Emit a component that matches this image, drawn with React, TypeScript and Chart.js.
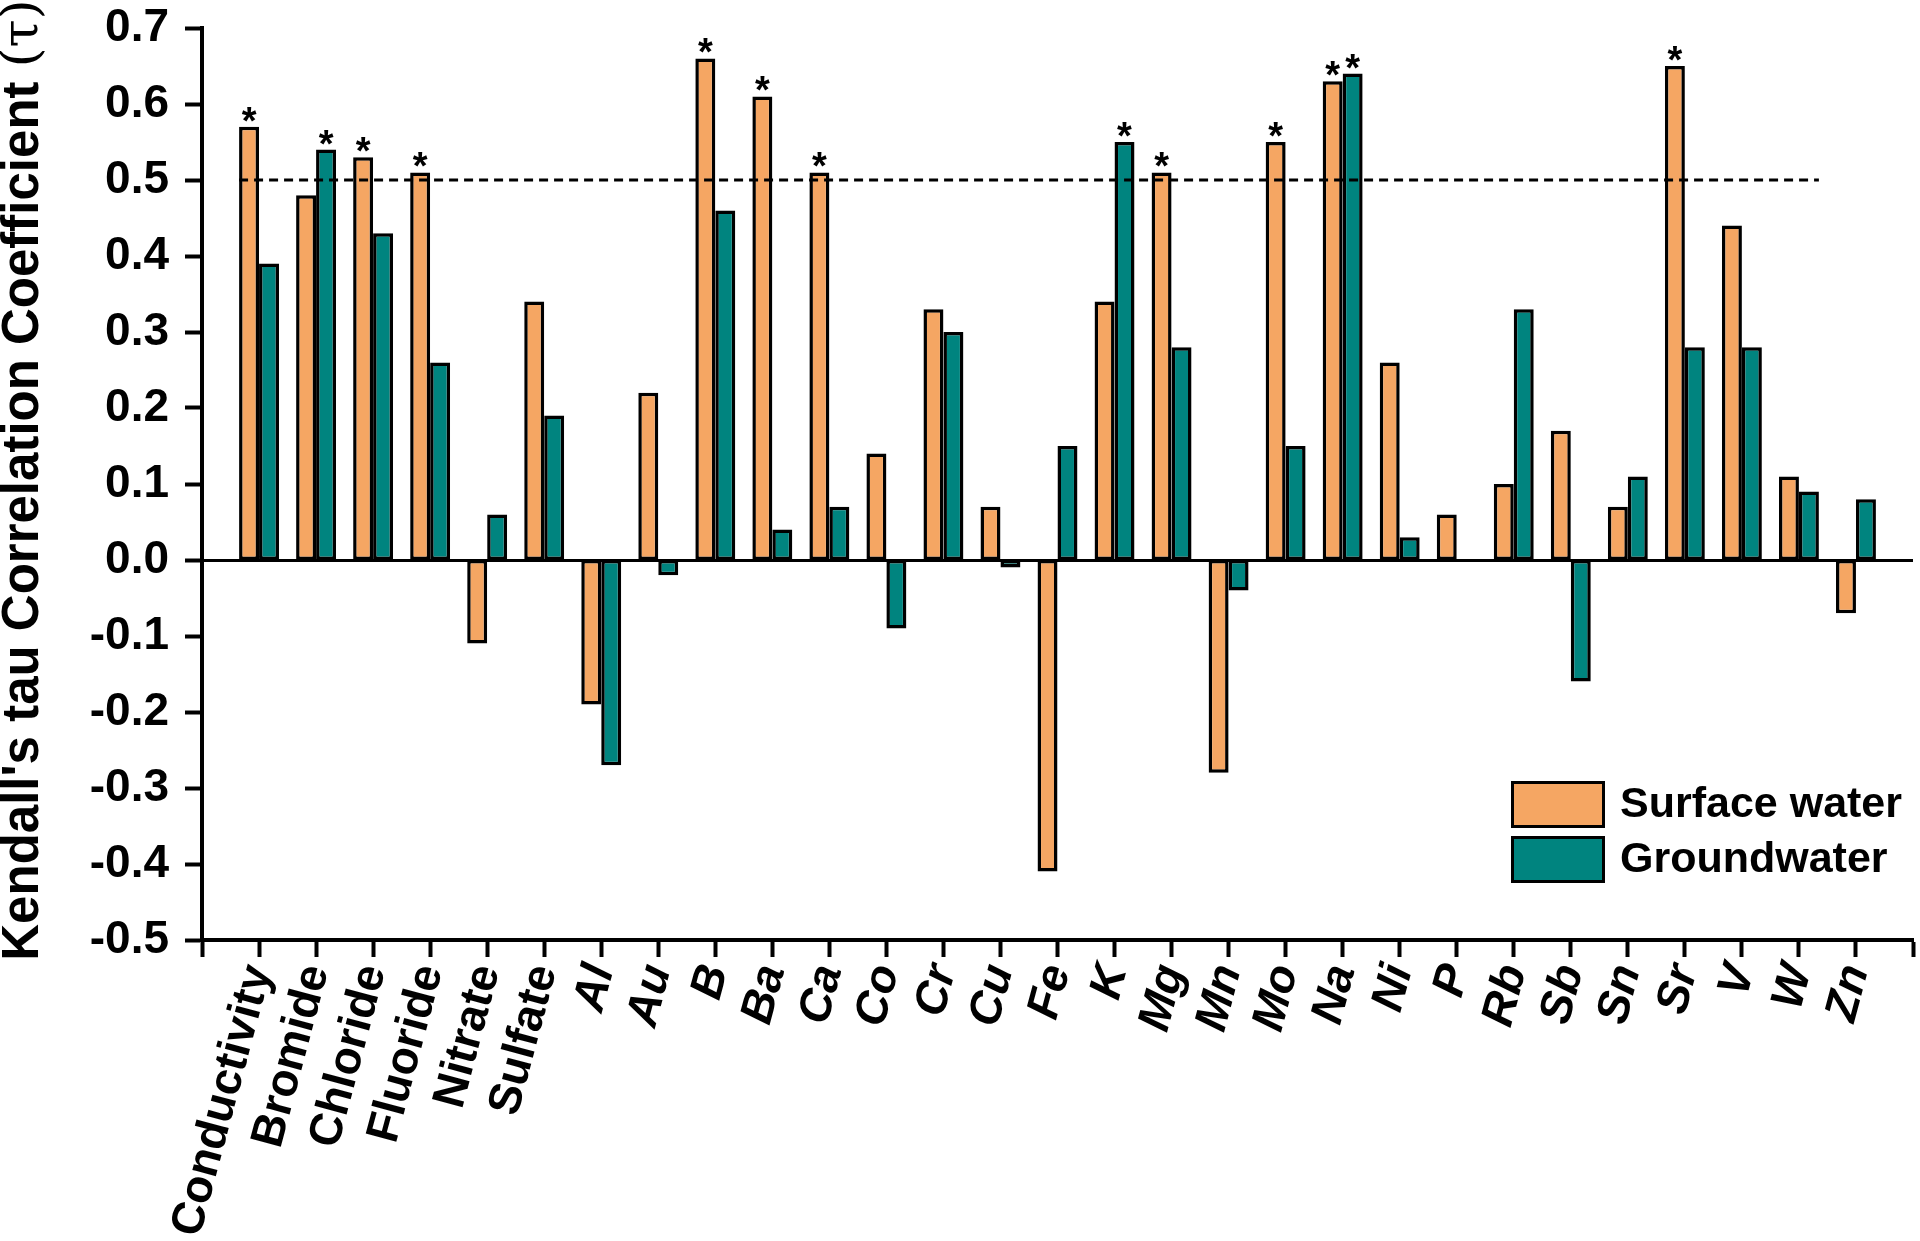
import React, { useEffect, useRef } from "react";
import { Chart, registerables } from "chart.js";

Chart.register(...registerables);

// ---- data -----------------------------------------------------------------
const ionLabels = ["Conductivity", "Bromide", "Chloride", "Fluoride", "Nitrate", "Sulfate"];
const elementLabels = [
  "Al", "Au", "B", "Ba", "Ca", "Co", "Cr", "Cu", "Fe", "K", "Mg", "Mn", "Mo",
  "Na", "Ni", "P", "Rb", "Sb", "Sn", "Sr", "V", "W", "Zn",
];
const categories = [...ionLabels, ...elementLabels];

const surfaceWater = [
  0.57, 0.48, 0.53, 0.51, -0.11, 0.34,
  -0.19, 0.22, 0.66, 0.61, 0.51, 0.14, 0.33, 0.07, -0.41, 0.34, 0.51, -0.28, 0.55,
  0.63, 0.26, 0.06, 0.1, 0.17, 0.07, 0.65, 0.44, 0.11, -0.07,
];
const groundwater = [
  0.39, 0.54, 0.43, 0.26, 0.06, 0.19,
  -0.27, -0.02, 0.46, 0.04, 0.07, -0.09, 0.3, -0.01, 0.15, 0.55, 0.28, -0.04, 0.15,
  0.64, 0.03, 0.0, 0.33, -0.16, 0.11, 0.28, 0.28, 0.09, 0.08,
];

const surfaceSignificant = ["Conductivity", "Chloride", "Fluoride", "B", "Ba", "Ca", "Mg", "Mo", "Na", "Sr"];
const groundSignificant = ["Bromide", "K", "Na"];

const seriesNames = ["Surface water", "Groundwater"];
const threshold = 0.5;
const thresholdFrom = "Conductivity";
const thresholdTo = "W";

const yMin = -0.5;
const yMax = 0.7;
const yStep = 0.1;
const yTitleMain = "Kendall's tau Correlation Coefficient ";
const yTitleSymbol = "(\u03C4)";

// ---- styles ---------------------------------------------------------------
const FONT = "'Liberation Sans', Arial, Helvetica, sans-serif";
const ORANGE = "#F5A663";
const TEAL = "#00847F";

export default function App() {
  const canvasRef = useRef<HTMLCanvasElement | null>(null);

  useEffect(() => {
    document.body.style.margin = "0";
    const canvas = canvasRef.current;
    if (!canvas) return;

    const labels = ["", ...categories, ""];
    const pad = (arr: number[]) => [null, ...arr, null];

    const annotations = {
      id: "annotations",
      afterDatasetsDraw(chart: any) {
        const ctx = chart.ctx;
        const xs = chart.scales.x;
        const ys = chart.scales.y;
        const area = chart.chartArea;
        const spacing = xs.getPixelForValue(2) - xs.getPixelForValue(1);

        // threshold dashed line
        const i0 = categories.indexOf(thresholdFrom) + 1;
        const i1 = categories.indexOf(thresholdTo) + 1;
        const yT = ys.getPixelForValue(threshold);
        ctx.save();
        ctx.strokeStyle = "#000";
        ctx.lineWidth = 3;
        ctx.setLineDash([9, 6]);
        ctx.beginPath();
        ctx.moveTo(xs.getPixelForValue(i0) - spacing * 0.35, yT);
        ctx.lineTo(xs.getPixelForValue(i1) + spacing * 0.35, yT);
        ctx.stroke();
        ctx.restore();

        // significance asterisks
        const sigLists = [surfaceSignificant, groundSignificant];
        ctx.save();
        ctx.fillStyle = "#000";
        ctx.font = `bold 38px ${FONT}`;
        ctx.textAlign = "center";
        ctx.textBaseline = "alphabetic";
        sigLists.forEach((list, di) => {
          const meta = chart.getDatasetMeta(di);
          list.forEach((name) => {
            const idx = categories.indexOf(name) + 1;
            const el = meta.data[idx];
            if (!el) return;
            ctx.fillText("*", el.x, el.y + 7);
          });
        });
        ctx.restore();

        // legend
        const colors = [ORANGE, TEAL];
        const lx = area.right - 402;
        const ly = area.bottom - 159;
        ctx.save();
        seriesNames.forEach((name, i) => {
          const by = ly + i * 55;
          ctx.fillStyle = colors[i];
          ctx.fillRect(lx, by, 94, 47);
          ctx.strokeStyle = "#000";
          ctx.lineWidth = 3;
          ctx.strokeRect(lx + 1.5, by + 1.5, 91, 44);
          ctx.fillStyle = "#000";
          ctx.font = `bold 43px ${FONT}`;
          ctx.textAlign = "left";
          ctx.textBaseline = "middle";
          ctx.fillText(name, lx + 109, by + 24);
        });
        ctx.restore();

        // y-axis title (bold text + lighter symbol)
        ctx.save();
        const cy = (area.top + area.bottom) / 2 - 4;
        const cx = 24;
        ctx.translate(cx, cy);
        ctx.rotate(-Math.PI / 2);
        ctx.fillStyle = "#000";
        ctx.textBaseline = "middle";
        const fMain = `bold 51px ${FONT}`;
        const fSym = `51px 'DejaVu Serif', ${FONT}`;
        ctx.font = fMain;
        const w1 = ctx.measureText(yTitleMain).width;
        ctx.font = fSym;
        const w2 = ctx.measureText(yTitleSymbol).width;
        const start = -(w1 + w2) / 2;
        ctx.textAlign = "left";
        ctx.font = fMain;
        ctx.fillText(yTitleMain, start, 0);
        ctx.font = fSym;
        ctx.fillText(yTitleSymbol, start + w1, 0);
        ctx.restore();
      },
    };

    const chart = new Chart(canvas, {
      type: "bar",
      data: {
        labels,
        datasets: [
          {
            label: seriesNames[0],
            data: pad(surfaceWater) as any,
            backgroundColor: ORANGE,
            borderColor: "#000",
            borderWidth: 3.5,
            borderSkipped: false,
            categoryPercentage: 0.7,
            barPercentage: 1.0,
          },
          {
            label: seriesNames[1],
            data: pad(groundwater) as any,
            backgroundColor: TEAL,
            borderColor: "#000",
            borderWidth: 3.5,
            borderSkipped: false,
            categoryPercentage: 0.7,
            barPercentage: 1.0,
          },
        ],
      },
      options: {
        responsive: false,
        animation: false,
        devicePixelRatio: 1,
        layout: { padding: { top: 28, right: 7, left: 0, bottom: 0 } },
        plugins: {
          legend: { display: false },
          tooltip: { enabled: false },
        },
        scales: {
          x: {
            type: "category",
            offset: false,
            grid: {
              display: true,
              drawOnChartArea: false,
              drawTicks: true,
              tickLength: 17,
              tickWidth: 4,
              tickColor: "#000",
              offset: false,
            },
            border: { display: true, color: "#000", width: 4 },
            ticks: {
              autoSkip: false,
              minRotation: 75,
              maxRotation: 75,
              color: "#000",
              padding: 2,
              font: (c: any) => {
                const lab = labels[c.index] || "";
                const italic = elementLabels.includes(lab);
                return { size: 46, weight: "bold", style: italic ? "italic" : "normal", family: FONT, lineHeight: 1.2 } as any;
              },
            },
            afterFit: (s: any) => {
              s.height = 301;
              s.paddingLeft = 0;
              s.paddingRight = 0;
            },
          } as any,
          y: {
            min: yMin,
            max: yMax,
            ticks: {
              stepSize: yStep,
              color: "#000",
              padding: 16,
              font: { size: 46, weight: "bold", family: FONT },
              callback: (v: any) => {
                const n = Math.abs(Number(v)) < 1e-9 ? 0 : Number(v);
                return n.toFixed(1);
              },
            },
            grid: {
              drawOnChartArea: true,
              color: (c: any) => (c.tick && Math.abs(c.tick.value) < 1e-9 ? "#000" : "rgba(0,0,0,0)"),
              lineWidth: 3,
              tickLength: 17,
              tickWidth: 4,
              tickColor: "#000",
            },
            border: { display: true, color: "#000", width: 4 },
            title: { display: false },
            afterFit: (s: any) => {
              s.width = 202;
              s.paddingTop = 0;
              s.paddingBottom = 0;
            },
          } as any,
        },
      },
      plugins: [annotations],
    });

    return () => {
      chart.destroy();
    };
  }, []);

  return (
    <div style={{ width: 1920, height: 1241, background: "#fff" }}>
      <canvas ref={canvasRef} width={1920} height={1241} style={{ display: "block" }} />
    </div>
  );
}
